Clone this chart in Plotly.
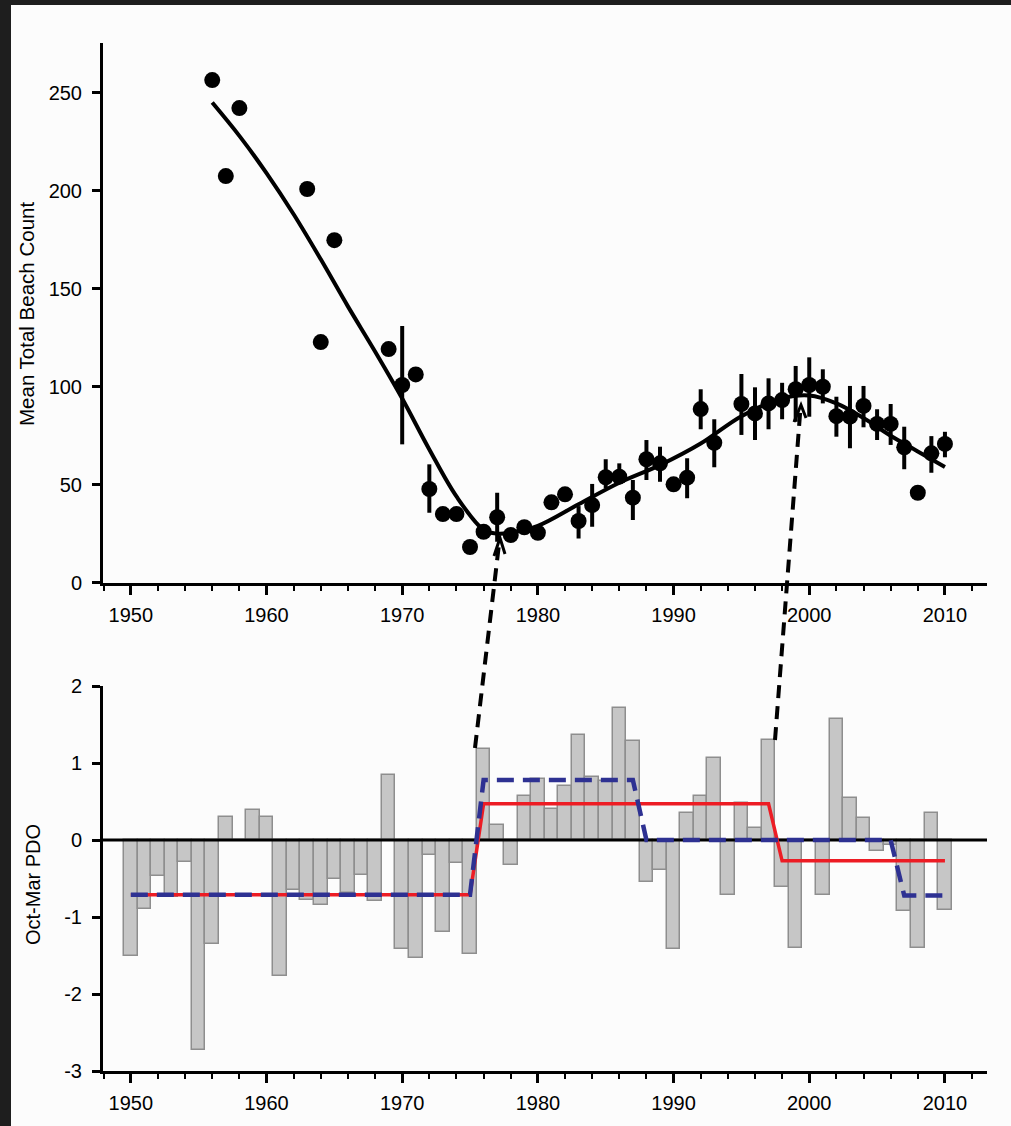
import plotly.graph_objects as go

# ---------------- data ----------------
beach_years = [1956, 1957, 1958, 1963, 1964, 1965, 1969, 1970, 1971, 1972, 1973, 1974,
               1975, 1976, 1977, 1978, 1979, 1980, 1981, 1982, 1983, 1984, 1985, 1986,
               1987, 1988, 1989, 1990, 1991, 1992, 1993, 1995, 1996, 1997, 1998, 1999,
               2000, 2001, 2002, 2003, 2004, 2005, 2006, 2007, 2008, 2009, 2010]
beach_counts = [256.5, 207.5, 242.2, 200.9, 122.8, 174.8, 119.2, 100.9, 106.3, 47.8, 35.0, 35.0,
                18.2, 26.0, 33.4, 24.3, 28.3, 25.5, 41.0, 45.1, 31.5, 39.6, 53.8, 54.1,
                43.4, 63.0, 60.9, 50.2, 53.6, 88.6, 71.4, 91.2, 86.4, 91.5, 93.2, 98.7,
                100.9, 100.0, 85.0, 84.7, 90.2, 81.0, 81.0, 69.1, 45.9, 66.0, 70.8]
err_plus = [0, 0, 0, 0, 0, 0, 0, 30.1, 0, 12.6, 0, 0,
            0, 0, 12.5, 0, 0, 0, 0, 0, 7.6, 10.8, 9.2, 6.8,
            9.0, 9.8, 8.5, 0, 9.9, 10.1, 12.0, 15.3, 13.3, 12.8, 8.8, 11.9,
            14.1, 8.9, 9.9, 15.7, 10.2, 7.5, 10.2, 10.5, 0, 8.8, 6.2]
err_minus = [0, 0, 0, 0, 0, 0, 0, 30.3, 0, 12.1, 0, 0,
             0, 0, 12.5, 0, 0, 0, 0, 0, 8.9, 11.0, 5.6, 3.4,
             11.4, 10.6, 9.4, 0, 10.5, 10.3, 12.5, 15.8, 13.6, 13.2, 9.8, 16.6,
             16.2, 8.5, 10.5, 16.1, 10.9, 8.2, 10.7, 11.2, 0, 9.9, 6.8]

trend_years = [1956, 1958, 1960, 1962, 1964, 1966, 1968, 1970, 1972, 1974, 1976, 1977,
               1978, 1980, 1983, 1986, 1989, 1992, 1995, 1998, 2000, 2002, 2004, 2006,
               2008, 2010]
trend_vals = [245, 228, 209, 188, 165, 141, 118, 94, 68, 44, 27, 25,
              25.5, 29, 40, 51, 60, 71, 85, 94, 95.5, 91.5, 84, 75,
              67, 59]

pdo_years = list(range(1950, 2011))
pdo_vals = [-1.51, -0.89, -0.47, -0.74, -0.29, -2.73, -1.35, 0.30, 0.00, 0.39,
            0.30, -1.77, -0.65, -0.78, -0.84, -0.50, -0.69, -0.45, -0.79, 0.84,
            -1.41, -1.53, -0.19, -1.19, -0.30, -1.48, 1.18, 0.19, -0.33, 0.57,
            0.79, 0.40, 0.70, 1.36, 0.82, 0.77, 1.71, 1.28, -0.55, -0.39,
            -1.42, 0.35, 0.57, 1.06, -0.72, 0.48, 0.16, 1.30, -0.61, -1.40,
            0.00, -0.72, 1.57, 0.54, 0.29, -0.14, -0.06, -0.92, -1.40, 0.35,
            -0.91]

regime_red_years = [1950, 1975, 1976, 1997, 1998, 2010]
regime_red_vals = [-0.71, -0.71, 0.47, 0.47, -0.27, -0.27]
regime_blue_years = [1950, 1975, 1976, 1987, 1988, 2006, 2007, 2010]
regime_blue_vals = [-0.71, -0.71, 0.78, 0.78, 0.0, 0.0, -0.72, -0.72]

year_ticks = [1950, 1960, 1970, 1980, 1990, 2000, 2010]
year_labels = ["1950", "1960", "1970", "1980", "1990", "2000", "2010"]
count_ticks = [0, 50, 100, 150, 200, 250]
count_labels = ["0", "50", "100", "150", "200", "250"]
pdo_ticks = [2, 1, 0, -1, -2, -3]
pdo_labels = ["2", "1", "0", "-1", "-2", "-3"]

# ---------------- layout geometry ----------------
W, H = 1011, 1126
L, R, T, B = 103, 987, 43, 1071
X_RANGE = [1947.95, 2013.1]


def px(X):
    return (X - L) / (R - L)


def py(Y):
    return (B - Y) / (B - T)


FONT = "Liberation Sans, Arial, sans-serif"
tickfont = dict(family=FONT, size=20, color="black")

fig = go.Figure()

# top: beach counts
fig.add_trace(go.Scatter(
    x=trend_years, y=trend_vals, mode="lines",
    line=dict(color="black", width=4, shape="spline", smoothing=1.0),
    xaxis="x", yaxis="y", hoverinfo="skip", showlegend=False))
fig.add_trace(go.Scatter(
    x=beach_years, y=beach_counts, mode="markers",
    marker=dict(color="black", size=16),
    error_y=dict(type="data", array=err_plus, arrayminus=err_minus, symmetric=False,
                 color="black", thickness=4, width=0),
    xaxis="x", yaxis="y", showlegend=False))

# bottom: PDO bars
fig.add_trace(go.Bar(
    x=pdo_years, y=pdo_vals, width=1.0,
    marker=dict(color="#c6c6c6", line=dict(color="#8e8e8e", width=1.5)),
    xaxis="x2", yaxis="y2", showlegend=False))
fig.add_trace(go.Scatter(
    x=X_RANGE, y=[0, 0], mode="lines", line=dict(color="black", width=3),
    xaxis="x2", yaxis="y2", hoverinfo="skip", showlegend=False))
fig.add_trace(go.Scatter(
    x=regime_red_years, y=regime_red_vals, mode="lines",
    line=dict(color="#ed1c24", width=3.5),
    xaxis="x2", yaxis="y2", showlegend=False))
fig.add_trace(go.Scatter(
    x=regime_blue_years, y=regime_blue_vals, mode="lines",
    line=dict(color="#2e3192", width=4.5, dash="17px,9px"),
    xaxis="x2", yaxis="y2", showlegend=False))

xcommon = dict(range=X_RANGE, showline=True, linewidth=3, linecolor="black",
               ticks="outside", tickvals=year_ticks, ticktext=year_labels,
               ticklen=9, tickwidth=2.5, tickcolor="black",
               minor=dict(dtick=2, tick0=1950, ticks="outside", ticklen=5, tickwidth=2, tickcolor="black"),
               showgrid=False, zeroline=False, tickfont=tickfont, ticklabelstandoff=3,
               automargin=False)
ycommon = dict(showline=True, linewidth=3, linecolor="black", ticks="outside",
               ticklen=8, tickwidth=2.5, tickcolor="black", showgrid=False, zeroline=False,
               tickfont=tickfont, ticklabelstandoff=6, automargin=False)

fig.update_layout(
    width=W, height=H,
    margin=dict(l=L, r=W - R, t=T, b=H - B, pad=0, autoexpand=False),
    paper_bgcolor="#1e1e1e", plot_bgcolor="white",
    bargap=0,
    xaxis=dict(anchor="y", **xcommon),
    yaxis=dict(domain=[py(582.7), 1], anchor="x", range=[0, 275.4],
               tickvals=count_ticks, ticktext=count_labels, **ycommon),
    xaxis2=dict(anchor="y2", **xcommon),
    yaxis2=dict(domain=[0, py(686)], anchor="x2", range=[-3, 2],
                tickvals=pdo_ticks, ticktext=pdo_labels, **ycommon),
)

shapes = [
    # white canvas behind the chart
    dict(type="rect", xref="paper", yref="paper", x0=px(11), x1=px(1015), y0=py(1130), y1=py(5),
         fillcolor="#fcfcfc", line=dict(width=0), layer="below"),
    # dashed connectors
    dict(type="line", xref="paper", yref="paper", x0=px(475), y0=py(748), x1=px(499.5), y1=py(540),
         line=dict(color="black", width=4, dash="13px,8px")),
    dict(type="line", xref="paper", yref="paper", x0=px(775), y0=py(740), x1=px(800.5), y1=py(408),
         line=dict(color="black", width=4, dash="13px,8px")),
    dict(type="path", xref="paper", yref="paper",
         path=f"M {px(494)},{py(556)} L {px(500)},{py(538)} L {px(505)},{py(554)}",
         line=dict(color="black", width=3)),
    dict(type="path", xref="paper", yref="paper",
         path=f"M {px(794)},{py(422)} L {px(801)},{py(405)} L {px(806)},{py(418)}",
         line=dict(color="black", width=3)),
]
fig.update_layout(shapes=shapes)

fig.add_annotation(text="Mean Total Beach Count", xref="paper", yref="paper",
                   x=px(27), y=py(314), textangle=-90, showarrow=False,
                   font=dict(family=FONT, size=20.5, color="black"), xanchor="center", yanchor="middle")
fig.add_annotation(text="Oct-Mar PDO", xref="paper", yref="paper",
                   x=px(33), y=py(885), textangle=-90, showarrow=False,
                   font=dict(family=FONT, size=20, color="black"), xanchor="center", yanchor="middle")

fig.write_html("out.html")
